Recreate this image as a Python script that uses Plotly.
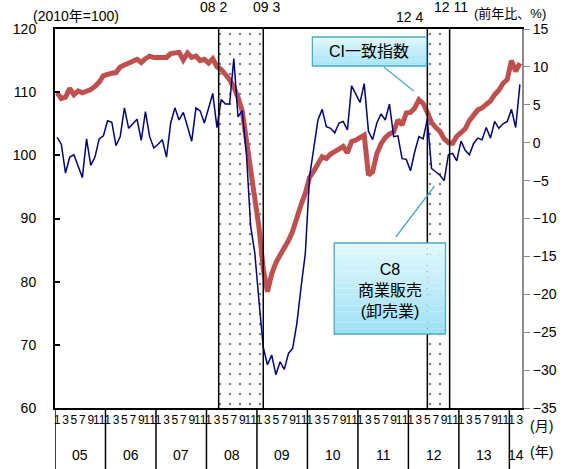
import plotly.graph_objects as go

# ---- data -------------------------------------------------------------
# months from 2005-01 to 2014-03 (index 0 .. 110)
years = [2005 + i // 12 for i in range(111)]
months = [i % 12 + 1 for i in range(111)]

# CI coincident index (2010 = 100), left axis
ci_index = [
    109.9, 109.0, 109.2, 110.6, 109.6, 110.2, 109.9, 110.1, 110.4, 110.9, 111.6, 112.6,
    112.9, 113.0, 113.1, 114.0, 114.3, 114.7, 114.9, 115.2, 114.7, 115.3, 115.7, 115.5,
    115.5, 115.6, 115.5, 116.1, 116.3, 116.3, 115.1, 116.2, 115.5, 115.7, 115.0, 115.2,
    114.6, 115.3, 114.0, 113.6, 112.8, 112.0, 110.8, 109.2, 107.0, 102.5, 98.5, 94.0,
    88.5, 82.0, 78.4, 81.2, 83.0, 84.2, 85.3, 86.5, 88.0, 90.3, 92.2, 94.0,
    96.5, 97.5, 98.5, 99.8, 99.5, 100.2, 100.6, 101.0, 101.4, 100.4, 102.2, 102.4,
    102.8, 103.2, 96.9, 97.4, 100.3, 101.8, 102.8, 103.4, 103.7, 105.6, 104.8, 106.7,
    106.8, 107.5, 108.8, 108.2, 106.8, 105.2, 104.4, 103.8, 102.6, 102.0, 101.9, 103.0,
    103.6, 104.2, 105.5, 106.5, 107.2, 107.5, 108.0, 108.6, 109.6, 110.3, 111.4, 112.0,
    115.0, 113.3, 114.6,
]

# C8 commercial sales (wholesale), year-on-year %, right axis
c8_wholesale = [
    0.7, -0.2, -4.0, -1.9, -1.6, -3.1, -4.6, 0.5, -3.0, -1.9, 0.5, 0.9,
    2.9, 2.7, -0.4, 0.8, 4.6, 1.9, 2.5, 3.1, 0.3, 4.1, 0.8, -0.7,
    -0.2, 0.4, -1.9, 2.6, 4.6, 3.0, 4.0, 2.1, 0.2, 4.6, 4.2, 2.6,
    4.5, 6.5, 2.0, 5.7, 5.1, 5.1, 11.1, 3.4, 4.2, -1.5, -11.0, -14.6,
    -21.0, -27.0, -29.3, -28.0, -30.6, -28.9, -29.9, -27.8, -27.1, -23.8, -19.0, -14.6,
    -4.5, -0.8, 3.0, 4.4, 2.1, 1.9, 1.3, 2.6, 2.8, 1.7, 7.5, 6.4,
    5.3, 7.8, 1.5, 0.4, 2.6, 3.8, 3.0, 5.1, 0.8, 0.9, -2.1, -2.2,
    -3.7, -1.2, 0.8, 0.5, 3.1, -3.4, -3.9, -4.3, -5.0, -1.6, -1.4, -2.4,
    0.2, -1.0, -1.6, -0.1, 0.6, 0.4, 2.0, 0.6, 2.8, 1.9, 2.5, 2.8,
    4.4, 2.0, 7.7,
]

# downturn periods, in month-index units
band_start = [38.4, 88.0]
band_end = [49.0, 93.3]
band_top_labels = ["08 2", "09 3", "12 4", "12 11"]

year_labels = ["05", "06", "07", "08", "09", "10", "11", "12", "13", "14"]

# ---- layout geometry --------------------------------------------------
W, H = 569, 469
ML, MR, MT, MB = 55, 44, 29, 61
PW, PH = W - ML - MR, H - MT - MB

FONT = "Liberation Sans, Arial, Noto Sans CJK JP, sans-serif"
RED = "#C0504D"
NAVY = "#000088"
CALLOUT_EDGE = "rgb(75,172,198)"


def px(xp):
    return (xp - ML) / PW


def py(yp):
    return (MT + PH - yp) / PH


x_idx = list(range(len(ci_index)))

fig = go.Figure()

# dotted shading for the downturn periods
band_mid = [(a + b) / 2 for a, b in zip(band_start, band_end)]
band_w = [b - a for a, b in zip(band_start, band_end)]
fig.add_trace(go.Bar(
    x=band_mid, y=[60] * len(band_mid), base=[60] * len(band_mid), width=band_w,
    marker=dict(color="white", line=dict(width=0),
                pattern=dict(shape=".", fgcolor="black", bgcolor="white",
                             size=10, solidity=0.05)),
    hoverinfo="skip", showlegend=False, yaxis="y",
))

fig.add_trace(go.Scatter(
    x=x_idx, y=ci_index, mode="lines", yaxis="y",
    line=dict(color=RED, width=5), showlegend=False,
))
fig.add_trace(go.Scatter(
    x=x_idx, y=c8_wholesale, mode="lines", yaxis="y2",
    line=dict(color=NAVY, width=1.5), showlegend=False,
))

shapes = []
# band borders
for xv in band_start + band_end:
    shapes.append(dict(type="line", xref="x", yref="paper", x0=xv, x1=xv, y0=0, y1=1,
                       line=dict(color="black", width=1.5)))
# year separators below the axis
for k in range(len(year_labels)):
    xv = 12 * k - 0.5
    shapes.append(dict(type="line", xref="x", yref="paper", x0=xv, x1=xv,
                       y0=0, y1=py(H), line=dict(color="black", width=1.5)))


# callout boxes with a soft vertical gradient
def callout(x0, y0, x1, y1, n=16):
    top = (224, 247, 253)
    bot = (158, 225, 244)
    for i in range(n):
        t = i / (n - 1)
        c = tuple(round(top[j] + (bot[j] - top[j]) * t) for j in range(3))
        ya = y0 + (y1 - y0) * i / n
        yb = y0 + (y1 - y0) * (i + 1) / n
        shapes.append(dict(type="rect", xref="paper", yref="paper",
                           x0=px(x0), x1=px(x1), y0=py(ya), y1=py(yb),
                           fillcolor="rgb(%d,%d,%d)" % c, line=dict(width=0)))
    shapes.append(dict(type="rect", xref="paper", yref="paper",
                       x0=px(x0), x1=px(x1), y0=py(y0), y1=py(y1),
                       line=dict(color=CALLOUT_EDGE, width=1.3)))


callout(314, 37, 429, 66)
callout(336, 243, 448, 334)
shapes.append(dict(type="line", xref="paper", yref="paper",
                   x0=px(386), y0=py(67), x1=px(416), y1=py(91),
                   line=dict(color=CALLOUT_EDGE, width=1.3)))
shapes.append(dict(type="line", xref="paper", yref="paper",
                   x0=px(398), y0=py(237), x1=px(437), y1=py(186),
                   line=dict(color=CALLOUT_EDGE, width=1.3)))

annotations = []


def label(text, xp, yp, size=14, xanchor="center"):
    annotations.append(dict(text=text, xref="paper", yref="paper", x=px(xp), y=py(yp),
                            xanchor=xanchor, yanchor="middle", showarrow=False,
                            font=dict(size=size, color="black", family=FONT)))


label("CI一致指数", 371.5, 51.5, size=16)
label("C8<br>商業販売<br>(卸売業)", 392, 290, size=16)
label("(2010年=100)", 76, 16, size=14)
label("(前年比、%)", 513, 14, size=13)
label("(月)", 545, 426, size=14)
label("(年)", 545, 452, size=14)
for txt, xp, yp in zip(band_top_labels, [215, 268, 412, 454], [7, 7, 17, 7]):
    label(txt, xp, yp, size=14)

# year labels centred on the months shown for each year
for k, yl in enumerate(year_labels):
    ms = [i for i in x_idx if years[i] == 2005 + k]
    annotations.append(dict(text=yl, xref="x", yref="paper",
                            x=(ms[0] + ms[-1]) / 2, y=py(455),
                            xanchor="center", yanchor="middle", showarrow=False,
                            font=dict(size=14, color="black", family=FONT)))

tickvals = [i for i in x_idx if months[i] % 2 == 1]
ticktext = [str(months[i]) for i in tickvals]

fig.update_layout(
    width=W, height=H,
    margin=dict(l=ML, r=MR, t=MT, b=MB, pad=0),
    paper_bgcolor="white", plot_bgcolor="white",
    font=dict(family=FONT, color="black"),
    bargap=0,
    showlegend=False,
    shapes=shapes,
    annotations=annotations,
    xaxis=dict(range=[-0.5, len(ci_index) - 0.5], showgrid=False, zeroline=False,
               showline=True, linecolor="black", linewidth=1.5, mirror=True,
               ticks="", tickvals=tickvals, ticktext=ticktext, tickangle=0,
               tickfont=dict(size=12, family=FONT)),
    yaxis=dict(range=[60, 120], dtick=10, showgrid=False, zeroline=False,
               showline=True, linecolor="black", linewidth=2,
               ticks="inside", ticklen=5, tickcolor="black", tickwidth=1.5,
               ticklabelstandoff=14, tickfont=dict(size=14, family=FONT)),
    yaxis2=dict(range=[-35, 15], dtick=5, overlaying="y", side="right",
                showgrid=False, zeroline=False,
                showline=True, linecolor="#8c8c8c", linewidth=2,
                ticks="outside", ticklen=6, tickcolor="#8c8c8c", tickwidth=1,
                tickfont=dict(size=14, family=FONT)),
)

fig.write_html("out.html")
